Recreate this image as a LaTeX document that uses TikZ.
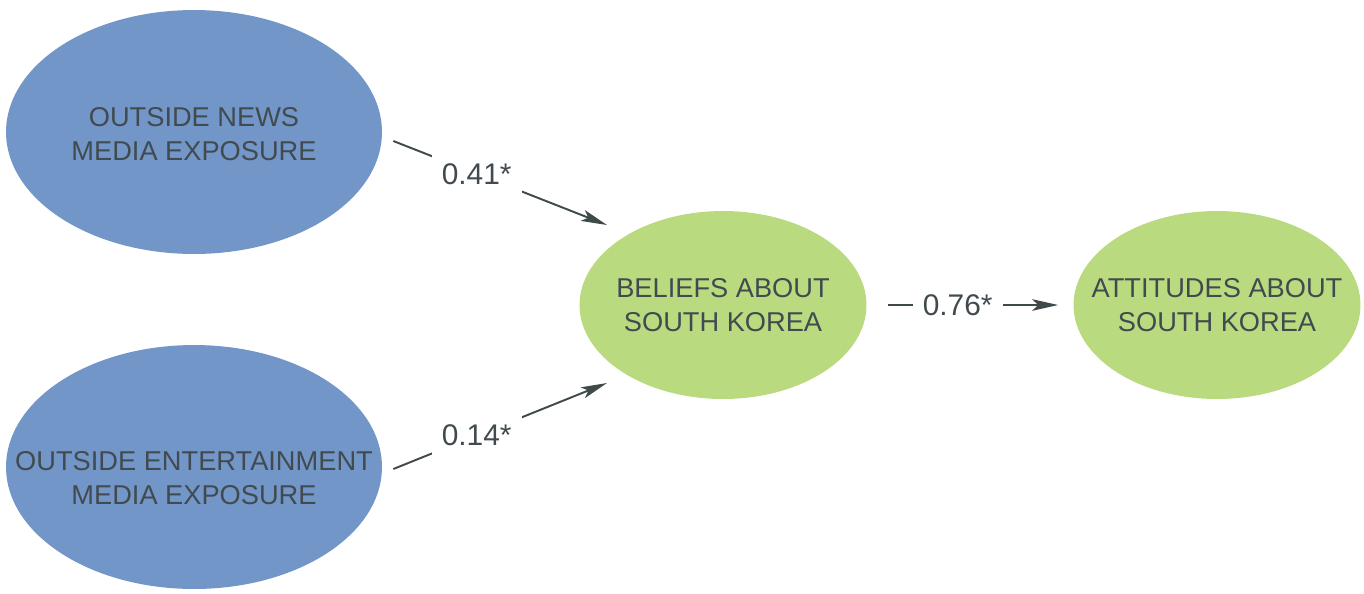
\documentclass[tikz,border=0pt]{standalone}
\usepackage{fontspec}
\setmainfont{Liberation Sans}
\usetikzlibrary{arrows.meta,shapes.geometric}

\definecolor{mediablue}{HTML}{7396C9}
\definecolor{beliefgreen}{HTML}{BADA7F}
\definecolor{inkgray}{HTML}{414B4F}
\definecolor{linegray}{HTML}{3F4A4B}

\begin{document}
\begin{tikzpicture}[
  x=0.02cm, y=-0.02cm,
  media/.style={ellipse, fill=mediablue, minimum width=7.52cm, minimum height=4.88cm, inner sep=0pt},
  belief/.style={ellipse, fill=beliefgreen, minimum width=5.74cm, minimum height=3.76cm, inner sep=0pt},
  txt/.style={align=center, inner sep=0pt, text=inkgray, font=\fontsize{15.5}{19}\selectfont},
  coef/.style={fill=white, inner sep=0.2cm, text=inkgray, font=\fontsize{17}{20}\selectfont},
  arrow/.style={-{Stealth[length=0.52cm, width=0.23cm, inset=0.12cm]}, line width=1.1pt, draw=linegray}
]
\useasboundingbox (0,0) rectangle (1364,593);

\node[media] (news) at (194,132) {};
\node[media] (ent) at (194,467) {};
\node[belief] (beliefs) at (723,305) {};
\node[belief] (attitudes) at (1217,305) {};

\node[txt] (newstxt) at (194,134) {OUTSIDE NEWS\\MEDIA EXPOSURE};
\node[txt] (enttxt) at (194,478) {OUTSIDE ENTERTAINMENT\\MEDIA EXPOSURE};
\node[txt] (beliefstxt) at (723,305) {BELIEFS ABOUT\\SOUTH KOREA};
\node[txt] (attitudestxt) at (1217,305) {ATTITUDES ABOUT\\SOUTH KOREA};

\draw[arrow] ([shift={(11,9)}]news.east) -- ([shift={(-116,-80)}]beliefs.center)
  node[coef, pos=0.39] (c1) {0.41*};
\draw[arrow] ([shift={(11,2)}]ent.east) -- ([shift={(-116,78)}]beliefs.center)
  node[coef, pos=0.39] (c2) {0.14*};
\draw[arrow] ([shift={(21,0)}]beliefs.east) -- ([shift={(-15,0)}]attitudes.west)
  node[coef, pos=0.41] (c3) {0.76*};
\end{tikzpicture}
\end{document}
